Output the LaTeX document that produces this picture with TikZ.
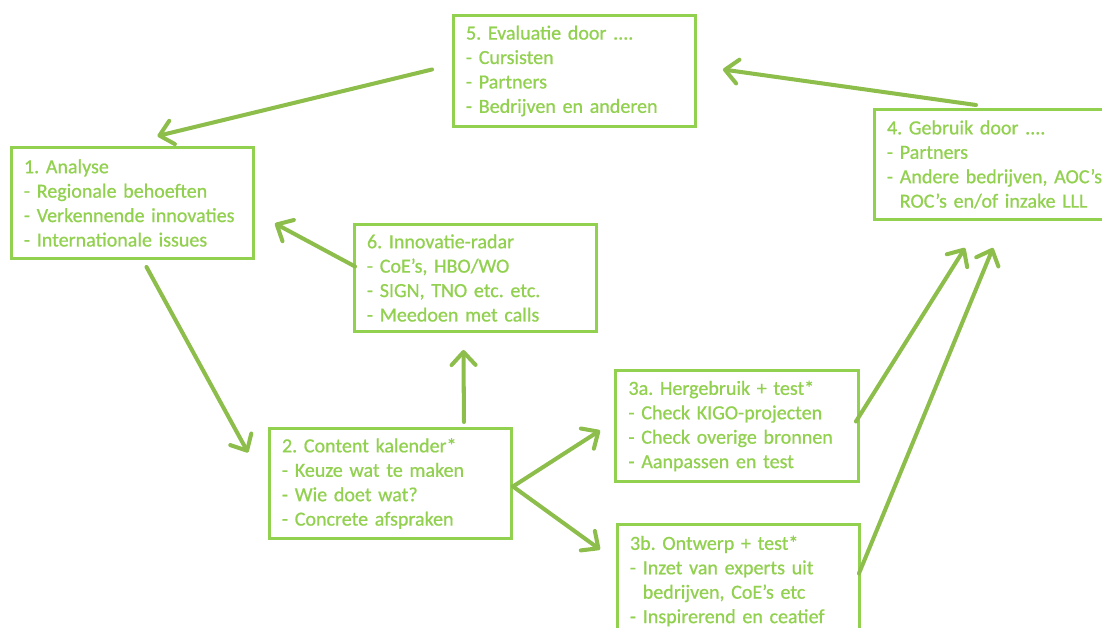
\documentclass[tikz,border=0pt]{standalone}
\usepackage{fontspec}
\setmainfont{Carlito}
\newfontfamily\boxfont{Carlito}[FakeBold = 0.8, Ligatures = TeX]
\usetikzlibrary{arrows.meta}
\definecolor{boxgreen}{HTML}{92D050}
\definecolor{arrowgreen}{HTML}{8DBE4C}
\tikzset{
  box/.style = {draw = boxgreen, line width = 1.7pt, shape = rectangle, anchor = north west, text = boxgreen, align = left, text width = 4.34cm, inner xsep = 0.25cm, font = \boxfont\frenchspacing\fontsize{11.4}{13.9}\selectfont},
  flow/.style = {draw = arrowgreen, line width = 2.3pt, line cap = round, -{Straight Barb[length = 2.6mm, width = 4.8mm, round]}}
}
\begin{document}
\begin{tikzpicture}[x = 0.02cm, y = -0.02cm]
\useasboundingbox (0,0) rectangle (1102,628);
\clip (0,0) rectangle (1102,628);
\node[box, minimum width = 4.84cm, minimum height = 2.22cm] (b5) at (452,14) {5. Evaluatie door ....\\- Cursisten\\- Partners\\- Bedrijven en anderen};
\node[box, minimum width = 4.84cm, minimum height = 2.22cm] (b1) at (10,146) {1. Analyse\\- Regionale behoeften\\- Verkennende innovaties\\- Internationale issues};
\node[box, text width = 5.2cm, minimum width = 5.7cm, minimum height = 2.2cm] (b4) at (873,108) {4. Gebruik door ....\\- Partners\\- Andere bedrijven, AOC’s\\\hphantom{- }ROC’s en/of inzake LLL};
\node[box, minimum width = 4.84cm, minimum height = 2.14cm] (b6) at (353,223) {6. Innovatie-radar\\- CoE’s, HBO/WO\\- SIGN, TNO etc. etc.\\- Meedoen met calls};
\node[box, minimum width = 4.82cm, minimum height = 2.2cm] (b2) at (268,427) {2. Content kalender*\\- Keuze wat te maken\\- Wie doet wat?\\- Concrete afspraken};
\node[box, minimum width = 4.86cm, minimum height = 2.22cm] (b3a) at (614,369) {3a. Hergebruik + test*\\- Check KIGO-projecten\\- Check overige bronnen\\- Aanpassen en test};
\node[box, minimum width = 4.82cm, minimum height = 2.26cm] (b3b) at (616,523) {3b. Ontwerp + test*\\- Inzet van experts uit\\\hphantom{- }bedrijven, CoE’s etc\\- Inspirerend en ceatief};

\draw[flow] ([shift = {(-20,-1.5)}]b5.west) -- ([shift = {(25,-10)}]b1.north);
\draw[flow] ([shift = {(103,-3)}]b4.north west) -- ([shift = {(26,-1.5)}]b5.east);
\draw[flow] ([shift = {(14,7)}]b1.south) -- ([shift = {(-20,-31)}]b2.west);
\draw[flow] ([shift = {(2,-11.5)}]b6.west) -- ([shift = {(20,20.5)}]b1.east);
\draw[flow] ([shift = {(73.5,-5)}]b2.north) -- ([shift = {(-12,17)}]b6.south);
\draw[flow] ([shift = {(0,3)}]b2.east) -- ([shift = {(-14,4.5)}]b3a.west);
\draw[flow] ([shift = {(0,3)}]b2.east) -- ([shift = {(-16,-31.5)}]b3b.west);
\draw[flow] ([shift = {(-4,-4.5)}]b3a.east) -- ([shift = {(92,27)}]b4.south west);
\draw[flow] ([shift = {(-2,-7.5)}]b3b.east) -- ([shift = {(120,27)}]b4.south west);
\end{tikzpicture}
\end{document}
